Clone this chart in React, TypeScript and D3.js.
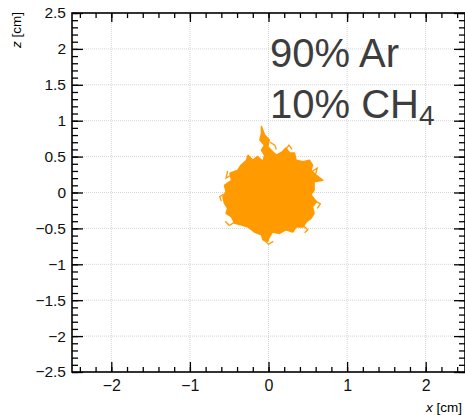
import { useEffect, useRef } from "react";
import * as d3 from "d3";

// axis ranges (cm)
const X_DOMAIN = [-2.5, 2.5];
const Z_DOMAIN = [-2.5, 2.5];
const xTickValues = [-2, -1, 0, 1, 2];
const zTickValues = [-2.5, -2, -1.5, -1, -0.5, 0, 0.5, 1, 1.5, 2, 2.5];

// electron cloud outline (x, z in cm)
const blobX = [-0.09, -0.05, 0.01, -0.01, 0.05, 0.1, 0.18, 0.22, 0.27, 0.33, 0.35, 0.44, 0.52, 0.56, 0.54, 0.61, 0.69, 0.58, 0.58, 0.54, 0.61, 0.56, 0.58, 0.54, 0.48, 0.44, 0.35, 0.31, 0.22, 0.14, 0.05, 0.01, -0.01, -0.07, -0.09, -0.18, -0.26, -0.35, -0.43, -0.47, -0.54, -0.52, -0.56, -0.58, -0.54, -0.56, -0.47, -0.49, -0.39, -0.35, -0.28, -0.26, -0.2, -0.14, -0.07, -0.05, -0.09, -0.05, -0.11, -0.09];
const blobZ = [0.92, 0.8, 0.73, 0.64, 0.57, 0.52, 0.57, 0.62, 0.55, 0.55, 0.45, 0.43, 0.45, 0.38, 0.31, 0.24, 0.17, 0.15, 0.03, -0.03, -0.13, -0.2, -0.29, -0.36, -0.41, -0.48, -0.48, -0.55, -0.52, -0.57, -0.55, -0.62, -0.68, -0.66, -0.59, -0.55, -0.48, -0.45, -0.43, -0.34, -0.29, -0.22, -0.15, -0.06, 0.01, 0.1, 0.17, 0.27, 0.31, 0.38, 0.45, 0.52, 0.45, 0.5, 0.43, 0.52, 0.59, 0.66, 0.73, 0.82];

// loose track ends sticking out of the cloud (x, z pairs, cm)
const strayTracks = [
  [[0.02, 0.7], [0.08, 0.66], [0.1, 0.6]],
  [[0.22, 0.6], [0.26, 0.66], [0.3, 0.6]],
  [[0.56, 0.3], [0.62, 0.34], [0.6, 0.26]],
  [[0.6, -0.12], [0.66, -0.16], [0.62, -0.22]],
  [[0.44, -0.46], [0.5, -0.52], [0.46, -0.56]],
  [[-0.06, -0.66], [0.0, -0.72], [0.06, -0.68]],
  [[-0.44, -0.42], [-0.5, -0.46], [-0.55, -0.4]],
  [[-0.57, -0.02], [-0.62, -0.06], [-0.6, -0.12]],
  [[-0.48, 0.24], [-0.54, 0.2], [-0.52, 0.3]],
];

const gasLine1 = "90% Ar";
const gasLine2 = "10% CH";
const gasSub = "4";

const App = () => {
  const svgRef = useRef<SVGSVGElement>(null);

  useEffect(() => {
    if (!svgRef.current) return;
    const width = 465;
    const height = 415;
    const left = 72, right = 465, top = 13, bottom = 372;

    const svg = d3.select(svgRef.current);
    svg.selectAll("*").remove();
    svg.attr("width", width).attr("height", height);

    const xScale = d3.scaleLinear().domain(X_DOMAIN).range([left, right]);
    const zScale = d3.scaleLinear().domain(Z_DOMAIN).range([bottom, top]);
    const fmt = d3.format("~g");

    // dotted grid
    const grid = svg.append("g").attr("stroke", "#d4d4d4").attr("stroke-width", 1).attr("stroke-dasharray", "1,1");
    grid.selectAll("line.v").data(xTickValues).join("line")
      .attr("class", "v")
      .attr("x1", d => xScale(d)).attr("x2", d => xScale(d))
      .attr("y1", top).attr("y2", bottom);
    grid.selectAll("line.h").data(zTickValues.filter(d => Math.abs(d) < 2.5)).join("line")
      .attr("class", "h")
      .attr("y1", d => zScale(d)).attr("y2", d => zScale(d))
      .attr("x1", left).attr("x2", right);

    // cloud
    const pts = blobX.map((x, i) => [x, blobZ[i]] as [number, number]);
    const blobLine = d3.line<[number, number]>()
      .x(d => xScale(d[0]))
      .y(d => zScale(d[1]))
      .curve(d3.curveLinearClosed);
    svg.append("path")
      .attr("d", blobLine(pts))
      .attr("fill", "#ff9a00")
      .attr("stroke", "#ff9a00")
      .attr("stroke-width", 1.5)
      .attr("stroke-linejoin", "round");

    const trackLine = d3.line<number[]>()
      .x(d => xScale(d[0]))
      .y(d => zScale(d[1]));
    svg.append("g").selectAll("path").data(strayTracks).join("path")
      .attr("d", d => trackLine(d))
      .attr("fill", "none")
      .attr("stroke", "#ff9a00")
      .attr("stroke-width", 1.3);

    // frame
    svg.append("rect")
      .attr("x", left).attr("y", top)
      .attr("width", right - left).attr("height", bottom - top)
      .attr("fill", "none").attr("stroke", "#000").attr("stroke-width", 1.6);

    const styleAxis = (g, size) => {
      g.select(".domain").remove();
      g.selectAll("line").attr("stroke-width", 1.3);
      g.selectAll("text")
        .attr("font-family", "'Liberation Sans', Arial, sans-serif")
        .attr("font-size", size)
        .attr("fill", "#111");
    };

    // bottom axis
    svg.append("g").attr("transform", `translate(0,${bottom})`)
      .call(d3.axisBottom(xScale).ticks(25).tickSizeInner(-5).tickSizeOuter(0).tickFormat(() => ""))
      .call(g => styleAxis(g, 15));
    svg.append("g").attr("transform", `translate(0,${bottom})`)
      .call(d3.axisBottom(xScale).tickValues(xTickValues).tickSizeInner(-10).tickSizeOuter(0).tickPadding(8).tickFormat(fmt))
      .call(g => styleAxis(g, 16));

    // top axis
    svg.append("g").attr("transform", `translate(0,${top})`)
      .call(d3.axisTop(xScale).ticks(25).tickSizeInner(-5).tickSizeOuter(0).tickFormat(() => ""))
      .call(g => styleAxis(g, 15));
    svg.append("g").attr("transform", `translate(0,${top})`)
      .call(d3.axisTop(xScale).tickValues(xTickValues).tickSizeInner(-9).tickSizeOuter(0).tickFormat(() => ""))
      .call(g => styleAxis(g, 15));

    // left axis
    svg.append("g").attr("transform", `translate(${left},0)`)
      .call(d3.axisLeft(zScale).ticks(50).tickSizeInner(-6).tickSizeOuter(0).tickFormat(() => ""))
      .call(g => styleAxis(g, 14));
    svg.append("g").attr("transform", `translate(${left},0)`)
      .call(d3.axisLeft(zScale).tickValues(zTickValues).tickSizeInner(-11).tickSizeOuter(0).tickPadding(6).tickFormat(fmt))
      .call(g => styleAxis(g, 15.5));

    // right axis
    svg.append("g").attr("transform", `translate(${right},0)`)
      .call(d3.axisRight(zScale).ticks(50).tickSizeInner(-6).tickSizeOuter(0).tickFormat(() => ""))
      .call(g => styleAxis(g, 14));
    svg.append("g").attr("transform", `translate(${right},0)`)
      .call(d3.axisRight(zScale).tickValues(zTickValues).tickSizeInner(-11).tickSizeOuter(0).tickFormat(() => ""))
      .call(g => styleAxis(g, 14));

    // axis titles
    const xTitle = svg.append("text")
      .attr("x", 462).attr("y", 412)
      .attr("text-anchor", "end")
      .attr("font-family", "'Liberation Sans', Arial, sans-serif")
      .attr("font-size", 13.5);
    xTitle.append("tspan").attr("font-style", "italic").text("x");
    xTitle.append("tspan").text(" [cm]");

    const zTitle = svg.append("text")
      .attr("transform", "translate(21,12) rotate(-90)")
      .attr("text-anchor", "end")
      .attr("font-family", "'Liberation Sans', Arial, sans-serif")
      .attr("font-size", 13.5);
    zTitle.append("tspan").attr("font-style", "italic").text("z");
    zTitle.append("tspan").text(" [cm]");

    // gas mixture label
    const label = svg.append("g")
      .attr("font-family", "'Liberation Sans', Arial, sans-serif")
      .attr("fill", "#3d3d3d");
    label.append("text").attr("x", 270).attr("y", 67).attr("font-size", 40).text(gasLine1);
    const l2 = label.append("text").attr("x", 270).attr("y", 118).attr("font-size", 40);
    l2.append("tspan").text(gasLine2);
    l2.append("tspan").attr("font-size", 28).attr("dy", 7).text(gasSub);
  }, []);

  return (
    <div style={{ position: "absolute", left: 0, top: 0 }}>
      <svg ref={svgRef} style={{ display: "block" }}></svg>
    </div>
  );
};

export default App;
